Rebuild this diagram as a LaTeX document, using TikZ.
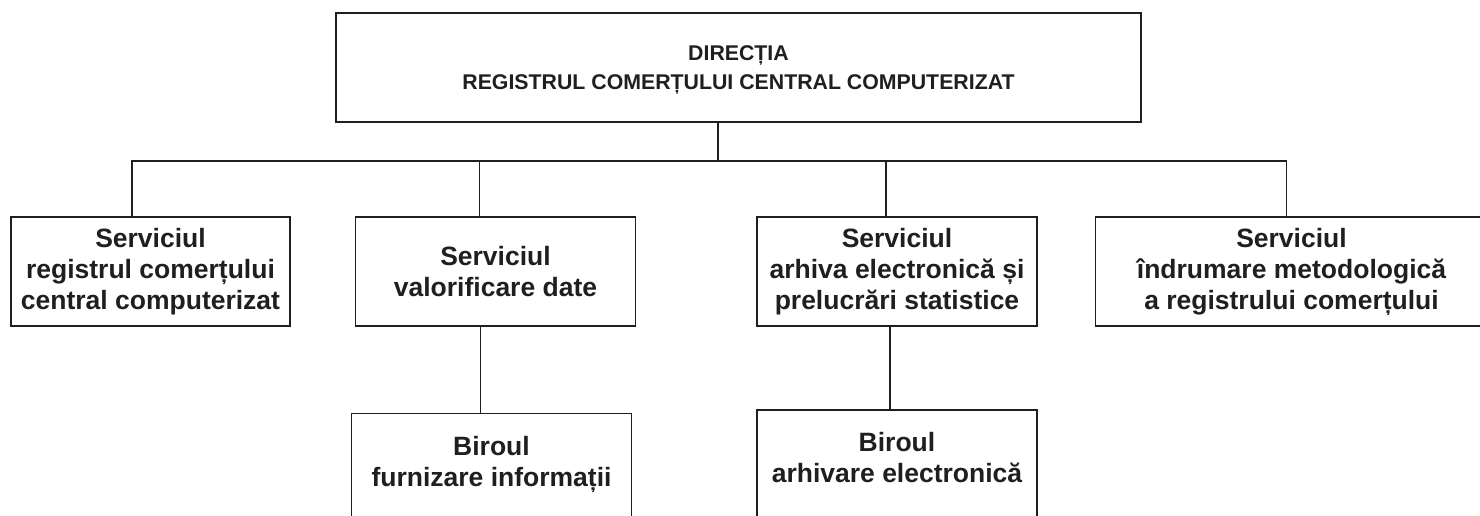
\documentclass[tikz,border=0pt]{standalone}
\usepackage{fontspec}
\setmainfont{Liberation Sans}
\usetikzlibrary{positioning}

\begin{document}
\begin{tikzpicture}[x=1pt,y=-1pt,line width=1.5pt,color=black!88,
		nodes={draw, rectangle, inner sep=0pt, align=center, minimum width=280pt, minimum height=109pt,
			font=\bfseries\fontsize{26.5}{31}\selectfont}]
		\useasboundingbox (0,0) rectangle (1480,515);
		\clip (0,0) rectangle (1480,515);
		\node (d) at (738.5,67.5) [minimum width=805pt, font=\bfseries\fontsize{21.3}{29}\selectfont, text depth=0pt] {DIRECȚIA\\REGISTRUL COMERȚULUI CENTRAL COMPUTERIZAT};
		\node (s1) at (150.5,271.5) [minimum width=279pt] {Serviciul\\registrul comerțului\\central computerizat};
		\node (s2) [right=64pt of s1] {Serviciul\\valorificare date};
		\node (s3) [right=120pt of s2] {Serviciul\\arhiva electronică și\\prelucrări statistice};
		\node (s4) [right=57pt of s3, minimum width=392pt] {Serviciul\\îndrumare metodologică\\a registrului comerțului};
		\node (b1) [below=86pt of s2, xshift=-4pt, text depth=14pt] {Biroul\\furnizare informații};
		\node (b2) [below=82.5pt of s3, text depth=14pt] {Biroul\\arhivare electronică};
		\coordinate (j) at (718,161);
		\draw (j |- d.south) -- (j);
		\draw ([xshift=-18.5pt]s1.north) |- (j) -| ([xshift=-5pt]s4.north);
		\draw ([xshift=-16pt]s2.north) -- ([xshift=-16pt]s2.north |- j);
		\draw ([xshift=-11pt]s3.north) -- ([xshift=-11pt]s3.north |- j);
		\draw ([xshift=-15pt]s2.south) -- ([xshift=-15pt]s2.south |- b1.north);
		\draw ([xshift=-7pt]s3.south) -- ([xshift=-7pt]s3.south |- b2.north);
\end{tikzpicture}
\end{document}
